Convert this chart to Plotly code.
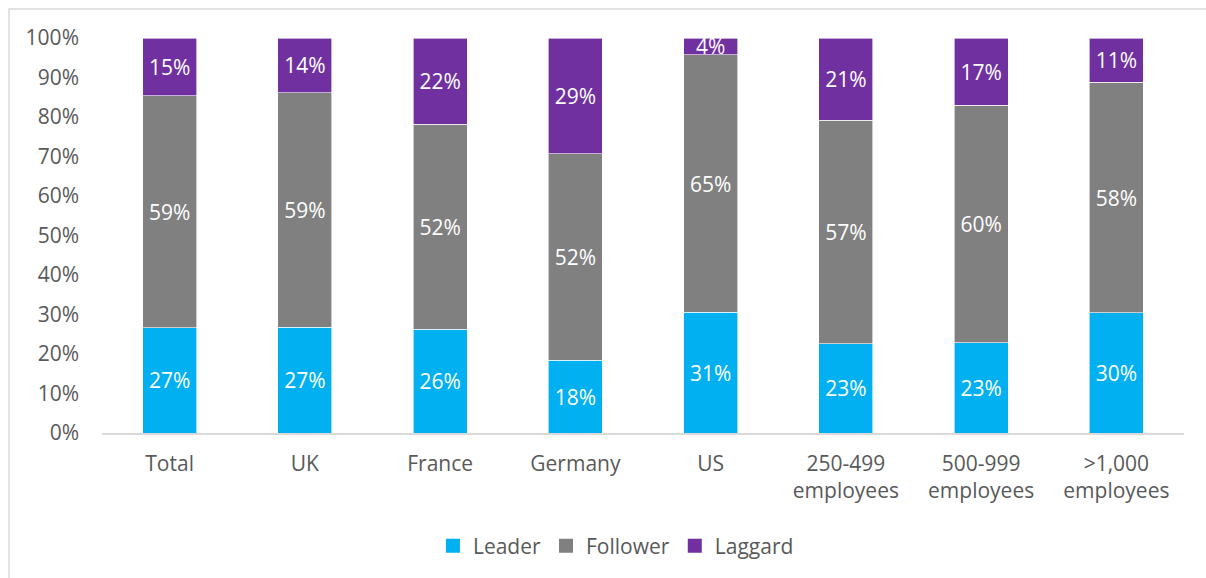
import plotly.graph_objects as go

categories = ["Total", "UK", "France", "Germany", "US",
              "250-499<br>employees", "500-999<br>employees", ">1,000<br>employees"]
leader = [26.6, 26.8, 26.3, 18.4, 30.6, 22.6, 22.8, 30.4]
follower = [58.8, 59.3, 51.9, 52.3, 65.1, 56.6, 60.2, 58.4]
laggard = [14.6, 13.9, 21.8, 29.3, 4.3, 20.8, 17.0, 11.2]
series_names = ["Leader", "Follower", "Laggard"]
series_colors = ["#00B0F0", "#808080", "#7030A0"]
y_ticks = [0, 10, 20, 30, 40, 50, 60, 70, 80, 90, 100]

FONT = "Open Sans"
FS = 21
fig = go.Figure()
for name, vals, col in zip(series_names, [leader, follower, laggard], series_colors):
    fig.add_trace(go.Bar(
        x=categories, y=vals, name=name, showlegend=False,
        marker=dict(color=col, line=dict(color="#ffffff", width=0.6)),
        texttemplate="%{y:.0f}%", textposition="inside",
        insidetextanchor="middle", constraintext="none",
        textfont=dict(color="white", size=FS, family=FONT),
        width=0.4, hoverinfo="skip",
    ))
for name, col in zip(series_names, series_colors):
    fig.add_trace(go.Scatter(
        x=[None], y=[None], mode="markers", name=name,
        marker=dict(symbol="square", size=14, color=col),
    ))

W, H = 1206, 578
L, R, T, B = 102, 22, 38, 145
pw, ph = W - L - R, H - T - B

fig.update_layout(
    width=W, height=H, barmode="stack",
    margin=dict(l=L, r=R, t=T, b=B),
    paper_bgcolor="white", plot_bgcolor="white",
    font=dict(family=FONT, size=FS, color="#595959"),
    uniformtext=dict(minsize=FS, mode="show"),
    showlegend=True,
    legend=dict(orientation="h", x=0.475, xanchor="center",
                y=(T + ph - 546) / ph, yanchor="middle",
                font=dict(size=FS, color="#595959"),
                itemwidth=30, traceorder="normal"),
    xaxis=dict(showline=True, linecolor="#d9d9d9", linewidth=1.5,
               ticks="", showgrid=False, ticklabelstandoff=11,
               tickfont=dict(size=FS, color="#595959")),
    yaxis=dict(range=[0, 100], tickvals=y_ticks,
               ticktext=[f"{v}%" for v in y_ticks],
               showgrid=False, zeroline=False, showline=False, ticks="",
               ticklabelstandoff=22,
               tickfont=dict(size=FS, color="#595959")),
    shapes=[dict(type="rect", xref="paper", yref="paper",
                 x0=(9 - L) / pw, x1=(W + 10 - L) / pw,
                 y0=(T + ph - (H + 10)) / ph, y1=(T + ph - 9) / ph,
                 line=dict(color="#d9d9d9", width=1.5), fillcolor="rgba(0,0,0,0)",
                 layer="below")],
)

fig.write_html("out.html", config={"displayModeBar": False},
               post_script="document.body.style.margin='0';")
